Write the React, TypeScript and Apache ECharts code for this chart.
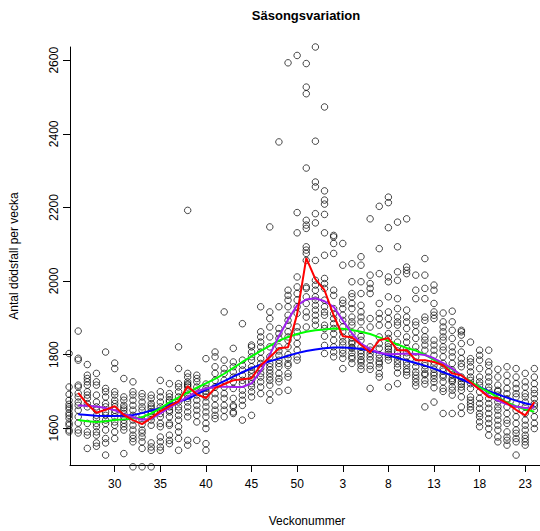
import React, { useEffect, useRef } from "react";
import * as echarts from "echarts";

// Week numbers, from week 25 of one year to week 24 of the next
const weeks = [25, 26, 27, 28, 29, 30, 31, 32, 33, 34, 35, 36, 37, 38, 39, 40, 41, 42, 43, 44, 45, 46, 47, 48, 49, 50, 51, 52,
  1, 2, 3, 4, 5, 6, 7, 8, 9, 10, 11, 12, 13, 14, 15, 16, 17, 18, 19, 20, 21, 22, 23, 24];

// Deaths per week (one list per week, one value per year)
const deaths: number[][] = [
  [1803, 1712, 1692, 1676, 1665, 1658, 1652, 1641, 1635, 1627, 1614, 1608, 1595, 1590],
  [1864, 1790, 1785, 1717, 1712, 1695, 1685, 1671, 1662, 1649, 1631, 1614, 1595, 1587],
  [1773, 1744, 1735, 1726, 1717, 1699, 1690, 1681, 1667, 1658, 1613, 1590, 1581, 1545],
  [1749, 1726, 1717, 1690, 1671, 1658, 1649, 1635, 1626, 1613, 1604, 1590, 1581, 1560, 1551],
  [1807, 1708, 1699, 1685, 1667, 1658, 1644, 1635, 1622, 1613, 1595, 1572, 1560, 1527],
  [1777, 1762, 1699, 1690, 1676, 1667, 1658, 1649, 1640, 1631, 1617, 1608, 1590, 1572],
  [1735, 1685, 1676, 1662, 1655, 1649, 1640, 1631, 1622, 1613, 1604, 1595, 1531],
  [1726, 1699, 1690, 1676, 1662, 1649, 1635, 1622, 1608, 1595, 1581, 1572, 1563, 1495],
  [1694, 1685, 1671, 1658, 1649, 1635, 1622, 1610, 1595, 1587, 1576, 1563, 1545, 1495],
  [1690, 1681, 1667, 1660, 1654, 1645, 1640, 1631, 1622, 1608, 1560, 1549, 1540, 1495],
  [1730, 1699, 1685, 1671, 1658, 1649, 1640, 1631, 1613, 1604, 1576, 1563, 1549, 1540],
  [1721, 1694, 1685, 1676, 1671, 1658, 1649, 1644, 1631, 1613, 1608, 1581, 1567, 1558],
  [1821, 1762, 1721, 1712, 1699, 1685, 1671, 1658, 1649, 1635, 1622, 1604, 1590, 1572, 1540],
  [2192, 1749, 1739, 1726, 1720, 1717, 1712, 1703, 1690, 1681, 1671, 1658, 1644, 1631, 1567, 1554],
  [1744, 1735, 1726, 1712, 1699, 1690, 1676, 1662, 1649, 1635, 1617, 1567],
  [1789, 1720, 1708, 1700, 1694, 1685, 1671, 1658, 1644, 1631, 1613, 1599, 1558, 1540],
  [1807, 1794, 1767, 1749, 1730, 1712, 1694, 1681, 1662, 1649, 1635, 1626],
  [1916, 1785, 1762, 1749, 1730, 1712, 1694, 1681, 1662, 1649, 1631],
  [1817, 1780, 1767, 1753, 1739, 1726, 1708, 1681, 1662, 1658, 1644, 1640],
  [1884, 1785, 1771, 1758, 1744, 1730, 1721, 1703, 1690, 1676, 1662, 1622],
  [1826, 1821, 1807, 1794, 1785, 1767, 1758, 1749, 1739, 1730, 1721, 1712, 1699, 1685, 1635],
  [1930, 1862, 1848, 1834, 1821, 1807, 1789, 1776, 1762, 1749, 1739, 1726, 1712, 1694],
  [2147, 1916, 1898, 1875, 1848, 1821, 1794, 1776, 1767, 1758, 1749, 1739, 1730, 1717, 1694, 1676],
  [2378, 1930, 1871, 1857, 1844, 1821, 1810, 1798, 1785, 1776, 1767, 1749, 1735, 1726, 1699],
  [2593, 1975, 1961, 1948, 1930, 1907, 1893, 1880, 1862, 1848, 1839, 1821, 1800, 1790, 1776, 1770, 1749, 1739, 1703],
  [2613, 2186, 2131, 2011, 1984, 1966, 1948, 1930, 1912, 1875, 1862, 1848, 1830, 1812, 1794, 1785],
  [2591, 2527, 2509, 2307, 2165, 2152, 2143, 2093, 2084, 2075, 2056, 1984, 1980, 1957, 1939, 1916, 1902, 1875],
  [2636, 2380, 2269, 2256, 2183, 2158, 2056, 2002, 1989, 1975, 1957, 1948, 1934, 1921, 1907, 1893, 1880],
  [2473, 2245, 2220, 2209, 2181, 2131, 2070, 2007, 1993, 1980, 1948, 1930, 1916, 1907, 1880, 1871, 1850, 1825, 1803],
  [2124, 2120, 2102, 2075, 1975, 1961, 1925, 1911, 1898, 1884, 1871, 1857, 1839, 1821, 1807, 1794],
  [2102, 2043, 1948, 1939, 1925, 1907, 1893, 1875, 1862, 1848, 1835, 1826, 1812, 1803, 1790, 1762],
  [2047, 1998, 1966, 1957, 1939, 1925, 1902, 1889, 1880, 1857, 1845, 1835, 1830, 1820, 1817, 1805, 1795, 1789, 1776],
  [2066, 2043, 1998, 1966, 1934, 1916, 1902, 1889, 1866, 1850, 1839, 1821, 1810, 1803, 1795, 1785, 1780, 1770, 1760],
  [2169, 2016, 1993, 1980, 1966, 1898, 1875, 1821, 1812, 1803, 1794, 1785, 1770, 1760, 1708],
  [2203, 2088, 2020, 1939, 1912, 1898, 1880, 1848, 1830, 1817, 1800, 1790, 1780, 1775, 1765, 1749, 1739],
  [2228, 2213, 2145, 2011, 1998, 1957, 1916, 1898, 1880, 1857, 1844, 1830, 1821, 1815, 1807, 1800, 1794, 1785, 1712],
  [2160, 2093, 2025, 2002, 1952, 1925, 1902, 1889, 1880, 1857, 1834, 1821, 1810, 1803, 1795, 1785, 1775, 1765, 1750, 1721],
  [2169, 2038, 2029, 2020, 1921, 1902, 1889, 1871, 1848, 1834, 1817, 1805, 1795, 1780, 1771, 1760, 1753, 1744],
  [2016, 1975, 1952, 1889, 1880, 1862, 1844, 1821, 1807, 1794, 1780, 1767, 1753, 1744, 1735, 1725, 1715],
  [2061, 2016, 1980, 1952, 1902, 1893, 1866, 1848, 1839, 1826, 1812, 1776, 1770, 1760, 1749, 1745, 1730, 1720, 1658],
  [1989, 1975, 1939, 1916, 1907, 1898, 1839, 1826, 1812, 1798, 1780, 1771, 1760, 1750, 1744, 1735, 1725, 1710, 1671],
  [1913, 1889, 1875, 1862, 1848, 1839, 1821, 1812, 1794, 1776, 1762, 1755, 1745, 1739, 1726, 1708, 1700, 1640],
  [1918, 1889, 1866, 1844, 1821, 1807, 1794, 1776, 1758, 1745, 1735, 1730, 1726, 1712, 1703, 1690, 1640],
  [1866, 1862, 1853, 1830, 1807, 1789, 1776, 1767, 1739, 1735, 1726, 1720, 1712, 1703, 1685, 1658, 1640],
  [1834, 1789, 1780, 1767, 1753, 1739, 1730, 1721, 1708, 1685, 1676, 1667, 1658, 1649],
  [1812, 1798, 1785, 1762, 1739, 1726, 1717, 1699, 1681, 1667, 1654, 1640, 1631, 1617, 1604],
  [1812, 1780, 1771, 1753, 1739, 1726, 1712, 1703, 1681, 1667, 1654, 1640, 1626, 1613, 1599, 1581],
  [1760, 1739, 1717, 1703, 1700, 1690, 1681, 1671, 1658, 1649, 1635, 1622, 1608, 1595, 1576, 1563],
  [1767, 1744, 1726, 1708, 1694, 1680, 1676, 1658, 1640, 1622, 1613, 1590, 1576, 1567, 1554],
  [1762, 1739, 1721, 1708, 1694, 1685, 1667, 1649, 1631, 1613, 1595, 1586, 1572, 1563, 1527],
  [1749, 1726, 1712, 1694, 1685, 1671, 1658, 1640, 1622, 1608, 1595, 1581, 1572, 1563, 1554],
  [1762, 1739, 1721, 1705, 1694, 1680, 1667, 1660, 1649, 1631, 1613, 1599],
];

// Fitted curves per week (first week has no value)
const weeklyMedian = [null, 1696, 1665, 1642, 1650, 1660, 1636, 1622, 1611, 1628, 1646, 1660, 1673, 1714, 1692, 1682, 1709,
  1720, 1730, 1733, 1736, 1771, 1793, 1817, 1820, 1910, 2062, 2005, 1975, 1907, 1850, 1847, 1826, 1806, 1839, 1845, 1812,
  1812, 1785, 1785, 1780, 1771, 1749, 1744, 1725, 1705, 1684, 1682, 1668, 1650, 1635, 1671];
const smoothPurple = [null, 1662, 1661, 1659, 1655, 1649, 1638, 1630, 1623, 1626, 1640, 1656, 1670, 1685, 1700, 1708, 1712,
  1713, 1712, 1712, 1722, 1755, 1800, 1850, 1895, 1934, 1950, 1953, 1945, 1930, 1893, 1858, 1830, 1815, 1805, 1801, 1802,
  1803, 1802, 1799, 1790, 1777, 1762, 1744, 1724, 1706, 1688, 1675, 1665, 1659, 1655, 1657];
const smoothGreen = [null, 1622, 1619, 1617, 1619, 1622, 1624, 1626, 1630, 1640, 1654, 1670, 1684, 1697, 1710, 1722, 1734,
  1748, 1764, 1780, 1795, 1810, 1824, 1838, 1848, 1856, 1862, 1866, 1868, 1871, 1870, 1867, 1862, 1856, 1847, 1838, 1828,
  1818, 1811, 1800, 1786, 1772, 1760, 1744, 1727, 1711, 1698, 1684, 1670, 1660, 1651, 1645];
const smoothBlue = [null, 1638, 1636, 1634, 1633, 1633, 1634, 1636, 1641, 1648, 1654, 1664, 1672, 1680, 1692, 1705, 1716,
  1728, 1740, 1752, 1763, 1773, 1782, 1789, 1797, 1804, 1810, 1814, 1817, 1819, 1819, 1818, 1815, 1811, 1805, 1798, 1791,
  1784, 1777, 1770, 1762, 1752, 1743, 1733, 1722, 1712, 1701, 1692, 1683, 1675, 1668, 1662];

const xTickPositions = [0, 5, 10, 15, 20, 25, 30, 35, 40, 45];
const yTickValues = [1600, 1800, 2000, 2200, 2400, 2600];

const FONT = '"Liberation Sans", Arial, Helvetica, sans-serif';

export default function App() {
  const ref = useRef<HTMLDivElement>(null);

  useEffect(() => {
    document.body.style.margin = "0";
    if (!ref.current) return;
    const chart = echarts.init(ref.current, undefined, { renderer: "svg" });

    const points: number[][] = [];
    deaths.forEach((list, k) => list.forEach((v) => points.push([k - 5, v])));
    const toLine = (arr: (number | null)[]) =>
      arr.map((v, k) => (v == null ? null : [k - 5, v])).filter((p) => p !== null);

    const lineSeries = (data: (number | null)[], color: string, z: number) => ({
      type: "line",
      data: toLine(data),
      symbol: "none",
      smooth: false,
      lineStyle: { color, width: 2 },
      z,
      silent: true,
    });

    chart.setOption({
      animation: false,
      backgroundColor: "#ffffff",
      grid: { left: 70, top: 47, width: 474, height: 418 },
      xAxis: {
        type: "value",
        min: -4.9,
        max: 46.62,
        axisLine: { show: true, onZero: false, lineStyle: { color: "#000", width: 1 } },
        axisTick: { show: true, customValues: xTickPositions, length: 7, lineStyle: { color: "#000" } },
        axisLabel: {
          show: true,
          customValues: xTickPositions,
          formatter: (v: number) => String(weeks[Math.round(v) + 5]),
          color: "#000",
          fontSize: 12,
          fontFamily: FONT,
          margin: 13,
        },
        splitLine: { show: false },
      },
      yAxis: {
        type: "value",
        min: 1500,
        max: 2636,
        axisLine: { show: true, onZero: false, lineStyle: { color: "#000", width: 1 } },
        axisTick: { show: true, customValues: yTickValues, length: 7, lineStyle: { color: "#000" } },
        axisLabel: {
          show: true,
          customValues: yTickValues,
          formatter: (v: number) => String(v),
          rotate: 90,
          color: "#000",
          fontSize: 12,
          fontFamily: FONT,
          margin: 10,
        },
        splitLine: { show: false },
      },
      series: [
        {
          type: "scatter",
          data: points,
          symbol: "circle",
          symbolSize: 6.5,
          clip: false,
          itemStyle: { color: "rgba(0,0,0,0)", borderColor: "#000", borderWidth: 0.9 },
          z: 2,
          silent: true,
        },
        lineSeries(smoothBlue, "#0000ff", 3),
        lineSeries(smoothGreen, "#00ff00", 4),
        lineSeries(smoothPurple, "#a020f0", 5),
        lineSeries(weeklyMedian, "#ff0000", 6),
      ],
      graphic: [
        {
          type: "text",
          x: 306,
          y: 15,
          style: {
            text: "Säsongsvariation",
            font: `bold 13px ${FONT}`,
            fill: "#000",
            textAlign: "center",
            textVerticalAlign: "middle",
            align: "center",
            verticalAlign: "middle",
          },
        },
        {
          type: "text",
          x: 307,
          y: 521,
          style: {
            text: "Veckonummer",
            font: `12px ${FONT}`,
            fill: "#000",
            textAlign: "center",
            textVerticalAlign: "middle",
            align: "center",
            verticalAlign: "middle",
          },
        },
        {
          type: "text",
          x: 14,
          y: 256,
          rotation: Math.PI / 2,
          style: {
            text: "Antal dödsfall per vecka",
            font: `12px ${FONT}`,
            fill: "#000",
            textAlign: "center",
            textVerticalAlign: "middle",
            align: "center",
            verticalAlign: "middle",
          },
        },
      ],
    });

    return () => chart.dispose();
  }, []);

  return <div ref={ref} style={{ width: 540, height: 531 }} />;
}
